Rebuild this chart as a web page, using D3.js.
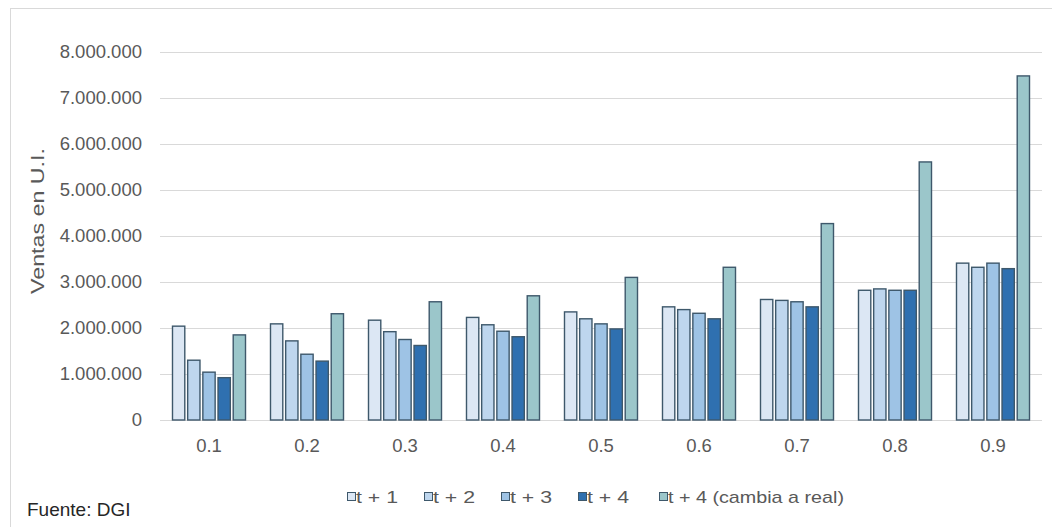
<!DOCTYPE html>
<html>
<head>
<meta charset="utf-8">
<script src="https://cdn.jsdelivr.net/npm/d3@7"></script>
<style>
  html, body { margin: 0; padding: 0; background: #ffffff; }
  svg { display: block; font-family: "Liberation Sans", Arial, sans-serif; }
</style>
</head>
<body>
<svg id="chart" width="1052" height="527"></svg>
<script>
// Percentiles of the distribution
const categories = ["0.1", "0.2", "0.3", "0.4", "0.5", "0.6", "0.7", "0.8", "0.9"];

// Sales in U.I. per horizon
const seriesNames = ["t + 1", "t + 2", "t + 3", "t + 4", "t + 4 (cambia a real)"];
const t1 = [2040000, 2090000, 2170000, 2230000, 2350000, 2460000, 2620000, 2820000, 3410000];
const t2 = [1300000, 1720000, 1920000, 2070000, 2200000, 2400000, 2600000, 2850000, 3320000];
const t3 = [1040000, 1430000, 1750000, 1930000, 2090000, 2320000, 2570000, 2820000, 3410000];
const t4 = [920000, 1280000, 1620000, 1810000, 1980000, 2200000, 2460000, 2820000, 3290000];
const t4Real = [1850000, 2310000, 2570000, 2700000, 3100000, 3320000, 4270000, 5610000, 7480000];

const yTicks = [0, 1000000, 2000000, 3000000, 4000000, 5000000, 6000000, 7000000, 8000000];

const colors = ["#dce7f4", "#bed6ee", "#9ec3e5", "#2f70b0", "#9bc6ca"];
const barStroke = "#3e586b";

const seriesValues = [t1, t2, t3, t4, t4Real];
const table = categories.map((c, i) => ({
  cat: c,
  values: seriesValues.map((s, k) => ({ key: seriesNames[k], k, v: s[i] }))
}));

const svg = d3.select("#chart");

// chart frame
svg.append("rect")
  .attr("x", 10.5).attr("y", 8.5)
  .attr("width", 1100).attr("height", 600)
  .attr("fill", "none").attr("stroke", "#d9d9d9").attr("stroke-width", 1);

const plot = { left: 160, right: 1042, top: 52, bottom: 420 };

const x0 = d3.scaleBand()
  .domain(categories)
  .range([plot.left, plot.right])
  .paddingInner(0.255)
  .paddingOuter(0.1275);

const x1 = d3.scaleBand()
  .domain(seriesNames)
  .range([0, x0.bandwidth()])
  .paddingInner(0.19)
  .paddingOuter(0);

const y = d3.scaleLinear()
  .domain([0, 8000000])
  .range([plot.bottom, plot.top]);

const locale = d3.formatLocale({ decimal: ",", thousands: ".", grouping: [3], currency: ["$", ""] });
const fmt = locale.format(",d");

// gridlines
svg.append("g")
  .selectAll("line")
  .data(yTicks)
  .join("line")
  .attr("x1", plot.left).attr("x2", plot.right)
  .attr("y1", d => Math.round(y(d)) + 0.5).attr("y2", d => Math.round(y(d)) + 0.5)
  .attr("stroke", "#d9d9d9").attr("stroke-width", 1);

// y axis labels
const yAxis = svg.append("g")
  .attr("transform", `translate(${plot.left},0)`)
  .call(d3.axisLeft(y).tickValues(yTicks).tickFormat(fmt).tickSize(0).tickPadding(18));
yAxis.select(".domain").remove();
yAxis.selectAll("text")
  .attr("fill", "#595959")
  .style("font-size", "18.5px")
  .style("font-family", "'Liberation Sans', Arial, sans-serif");

// x axis labels
const xAxis = svg.append("g")
  .attr("transform", `translate(0,${plot.bottom})`)
  .call(d3.axisBottom(x0).tickSize(0).tickPadding(19));
xAxis.select(".domain").remove();
xAxis.selectAll("text")
  .attr("fill", "#595959")
  .style("font-size", "18.5px")
  .style("font-family", "'Liberation Sans', Arial, sans-serif");

// bars
svg.append("g")
  .selectAll("g")
  .data(table)
  .join("g")
  .attr("transform", d => `translate(${x0(d.cat)},0)`)
  .selectAll("rect")
  .data(d => d.values)
  .join("rect")
  .attr("x", d => x1(d.key))
  .attr("width", x1.bandwidth())
  .attr("y", d => y(d.v))
  .attr("height", d => y(0) - y(d.v))
  .attr("fill", d => colors[d.k])
  .attr("stroke", barStroke)
  .attr("stroke-width", 1.4);

// y axis title
svg.append("text")
  .attr("transform", "translate(44,221) rotate(-90)")
  .attr("text-anchor", "middle")
  .attr("fill", "#595959")
  .style("font-size", "19px")
  .attr("textLength", 146)
  .attr("lengthAdjust", "spacingAndGlyphs")
  .text("Ventas en U.I.");

// legend
const legendX = [347, 424, 501, 578, 659];
const legendTextWidth = [42, 42, 42, 42, 176];
const legend = svg.append("g")
  .selectAll("g")
  .data(seriesNames)
  .join("g")
  .attr("transform", (d, i) => `translate(${legendX[i]},497)`);
legend.append("rect")
  .attr("x", 0.5).attr("y", -4.5)
  .attr("width", 8).attr("height", 8)
  .attr("fill", (d, i) => colors[i])
  .attr("stroke", barStroke).attr("stroke-width", 1);
legend.append("text")
  .attr("x", 9).attr("y", 6)
  .attr("fill", "#595959")
  .style("font-size", "17px")
  .attr("textLength", (d, i) => legendTextWidth[i])
  .attr("lengthAdjust", "spacingAndGlyphs")
  .text(d => d);

// source note
svg.append("text")
  .attr("x", 27).attr("y", 516)
  .attr("fill", "#262626")
  .style("font-size", "19px")
  .text("Fuente: DGI");
</script>
</body>
</html>
